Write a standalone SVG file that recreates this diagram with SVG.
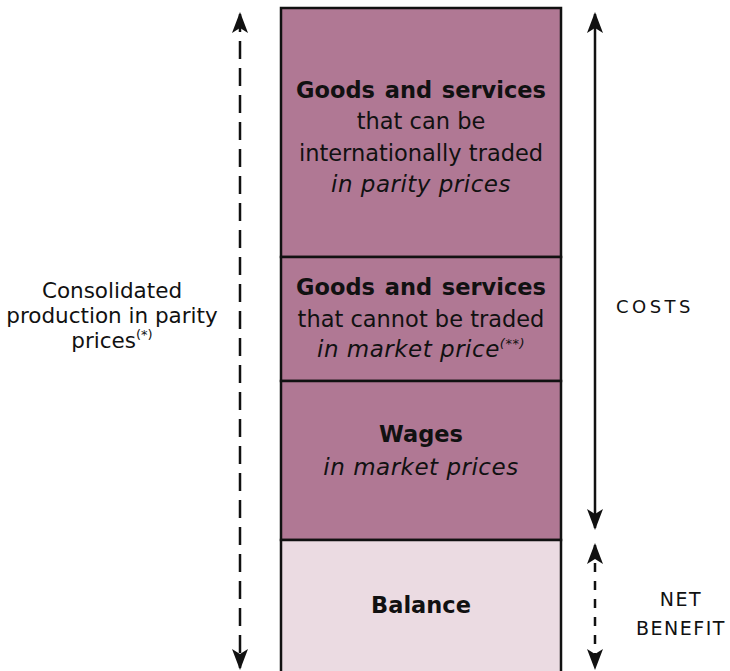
<svg xmlns="http://www.w3.org/2000/svg" width="730" height="671" viewBox="0 0 730 671">
<style>
.t{font-family:"DejaVu Sans","Liberation Sans",sans-serif;fill:#111;text-anchor:middle}
.b{font-weight:bold;font-size:22.5px;word-spacing:2px}
.r{font-size:22.5px}
.l{font-size:21.5px}
.i{font-size:23px;font-style:italic;letter-spacing:0.5px}
.sup{font-size:13px}
.box{stroke:#111;stroke-width:2.5}
.dk{fill:#b07894}
.lt{fill:#ebdbe2}
.ln{stroke:#111;stroke-width:2.5;fill:none}
</style>
<defs>
<marker id="ah" viewBox="0 0 22 16" refX="20" refY="8" markerWidth="22" markerHeight="16" markerUnits="userSpaceOnUse" orient="auto-start-reverse">
<path d="M22 8 L1 0 L6 8 L1 16 Z" fill="#111"/>
</marker>
</defs>
<g id="box-traded"><rect class="box dk" x="281" y="8" width="280" height="249"/>
<text class="t b" x="421" y="98">Goods and services</text>
<text class="t r" x="421" y="129">that can be</text>
<text class="t r" x="421" y="161">internationally traded</text>
<text class="t i" x="421" y="192">in parity prices</text></g>
<g id="box-nontraded"><rect class="box dk" x="281" y="257" width="280" height="124"/>
<text class="t b" x="421" y="295">Goods and services</text>
<text class="t r" x="421" y="327">that cannot be traded</text>
<text class="t i" x="421" y="357">in market price<tspan class="sup" dy="-9">(**)</tspan></text></g>
<g id="box-wages"><rect class="box dk" x="281" y="381" width="280" height="159"/>
<text class="t b" x="421" y="442">Wages</text>
<text class="t i" x="421" y="475">in market prices</text></g>
<g id="box-balance"><rect class="box lt" x="281" y="540" width="280" height="140"/>
<text class="t b" x="421" y="613">Balance</text></g>
<g id="connectors">
<line class="ln" x1="240" y1="14" x2="240" y2="668" stroke-dasharray="18 9" marker-start="url(#ah)" marker-end="url(#ah)"/>
<line class="ln" x1="595" y1="14" x2="595" y2="528" marker-start="url(#ah)" marker-end="url(#ah)"/>
<line class="ln" x1="595" y1="545" x2="595" y2="668" stroke-dasharray="9 9" marker-start="url(#ah)" marker-end="url(#ah)"/>
</g>
<g id="label-production">
<text class="t l" x="112" y="298">Consolidated</text>
<text class="t l" x="112" y="323">production in parity</text>
<text class="t l" x="112" y="348">prices<tspan class="sup" dy="-9">(*)</tspan></text></g>
<g id="label-costs"><text class="t" x="655" y="313" font-size="18" letter-spacing="3.5">COSTS</text></g>
<g id="label-net"><text class="t" x="681" y="606" font-size="19" letter-spacing="1.5">NET</text>
<text class="t" x="681" y="635" font-size="19" letter-spacing="1.5">BENEFIT</text></g>
</svg>
